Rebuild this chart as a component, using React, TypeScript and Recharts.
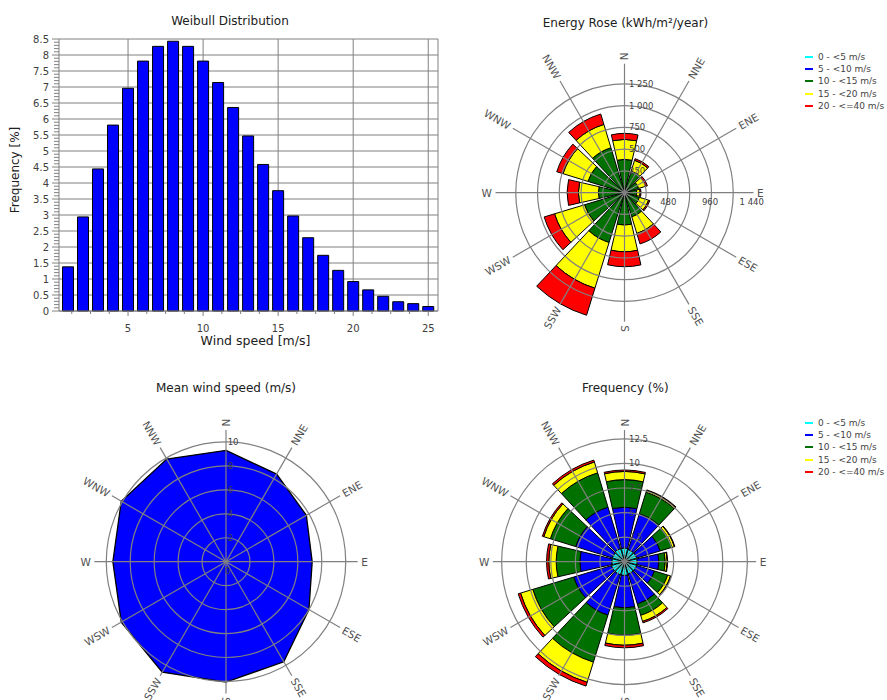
import React from 'react'
import {
  BarChart,
  Bar,
  XAxis,
  YAxis,
  CartesianGrid,
  RadialBarChart,
  RadialBar,
  PolarAngleAxis,
  PolarRadiusAxis,
  PolarGrid,
  RadarChart,
  Radar
} from 'recharts'

const FONT = '"DejaVu Sans", Verdana, sans-serif'
const GRID = '#808080'
const TXT = '#404040'

// ---- Weibull distribution ----
const windSpeeds = [1, 2, 3, 4, 5, 6, 7, 8, 9, 10, 11, 12, 13, 14, 15, 16, 17, 18, 19, 20, 21, 22, 23, 24, 25]
const weibullFreq = [
  1.38, 2.94, 4.44, 5.81, 6.96, 7.81, 8.27, 8.43, 8.27, 7.81, 7.14, 6.36, 5.47, 4.58, 3.76, 2.97, 2.29, 1.74,
  1.27, 0.92, 0.66, 0.46, 0.29, 0.23, 0.14
]
const freqMajorTicks = [0, 0.5, 1, 1.5, 2, 2.5, 3, 3.5, 4, 4.5, 5, 5.5, 6, 6.5, 7, 7.5, 8, 8.5]
const speedMajorTicks = [5, 10, 15, 20, 25]

// minor ticks: 0.1 steps on y, 1.25 steps on x
const freqAllTicks: number[] = []
for (let i = 0; i <= 85; i++) freqAllTicks.push(i / 10)
const speedAllTicks: number[] = []
for (let i = 1; i <= 20; i++) speedAllTicks.push(i * 1.25)

const weibullData = windSpeeds.map((s, i) => ({ speed: s, freq: weibullFreq[i] }))

// ---- roses ----
const sectors = ['N', 'NNE', 'ENE', 'E', 'ESE', 'SSE', 'S', 'SSW', 'WSW', 'W', 'WNW', 'NNW']
const speedBins = ['0 - <5 m/s', '5 - <10 m/s', '10 - <15 m/s', '15 - <20 m/s', '20 - <=40 m/s']
const binColors = ['#00ffff', '#0000ff', '#007000', '#ffff00', '#ff0000']

const energyBin0 = [5, 4, 3, 3, 3, 4, 5, 6, 5, 4, 5, 5]
const energyBin1 = [35, 26, 22, 22, 22, 26, 35, 44, 40, 31, 35, 40]
const energyBin2 = [343, 230, 145, 115, 155, 260, 332, 550, 435, 265, 400, 495]
const energyBin3 = [230, 130, 85, 40, 110, 200, 307, 550, 360, 230, 300, 280]
const energyBin4 = [69, 20, 20, 10, 15, 125, 172, 325, 125, 130, 75, 125]
const energyTicks = [0, 250, 500, 750, 1000, 1250]
const energyEastTicks = [480, 960, 1440]

const freqBin0 = [1.4, 1.3, 1.3, 1.3, 1.3, 1.3, 1.4, 1.4, 1.4, 1.3, 1.3, 1.4]
const freqBin1 = [4.15, 3.8, 2.5, 2.2, 1.9, 3.2, 3.3, 4.3, 4.0, 3.25, 3.9, 4.4]
const freqBin2 = [2.8, 2.3, 1.25, 0.65, 1.4, 1.2, 2.78, 5.0, 4.35, 2.4, 2.7, 3.65]
const freqBin3 = [0.83, 0.18, 0.25, 0.2, 0.3, 0.65, 1.02, 2.15, 1.3, 0.75, 0.7, 1.15]
const freqBin4 = [0.15, 0.07, 0.05, 0.05, 0.05, 0.15, 0.26, 0.4, 0.25, 0.23, 0.15, 0.2]
const freqRoseTicks = [0, 2.5, 5, 7.5, 10, 12.5]

const meanSpeed = [9.3, 8.45, 7.75, 7.2, 8.0, 9.65, 10.05, 10.65, 10.1, 9.45, 10.1, 9.9]
const meanTicks = [0, 2, 4, 6, 8, 10]

const binKeys = ['b0', 'b1', 'b2', 'b3', 'b4']
const energyData = sectors.map((dir, i) => ({
  dir,
  b0: energyBin0[i],
  b1: energyBin1[i],
  b2: energyBin2[i],
  b3: energyBin3[i],
  b4: energyBin4[i]
}))
const freqData = sectors.map((dir, i) => ({
  dir,
  b0: freqBin0[i],
  b1: freqBin1[i],
  b2: freqBin2[i],
  b3: freqBin3[i],
  b4: freqBin4[i]
}))
const meanData = sectors.map((dir, i) => ({ dir, speed: meanSpeed[i] }))

const fmtThousands = (v: number) =>
  v >= 1000 ? `${Math.floor(v / 1000)} ${String(v % 1000).padStart(3, '0')}` : String(v)

// ---- tick renderers ----
const YTick = (props: any) => {
  const { x, y, payload } = props
  const major = Math.round(payload.value * 10) % 5 === 0
  return (
    <g>
      <line x1={x - (major ? 7 : 5)} x2={x} y1={y} y2={y} stroke={GRID} />
      {major && (
        <text x={x - 10} y={y} textAnchor="end" dominantBaseline="central" fontSize={10} fill={TXT} fontFamily={FONT}>
          {payload.value}
        </text>
      )}
    </g>
  )
}

const XTick = (props: any) => {
  const { x, y, payload } = props
  const major = payload.value % 5 === 0
  return (
    <g>
      <line x1={x} x2={x} y1={y} y2={y + (major ? 5 : 3)} stroke={GRID} />
      {major && (
        <text x={x} y={y + 17} textAnchor="middle" dominantBaseline="central" fontSize={10} fill={TXT} fontFamily={FONT}>
          {payload.value}
        </text>
      )}
    </g>
  )
}

const CompassTick = (props: any) => {
  const { x, y, payload } = props
  const c = payload.coordinate
  const right = Math.cos((c * Math.PI) / 180) > -1e-6
  const rot = right ? -c : 180 - c
  return (
    <text
      x={x}
      y={y}
      transform={`rotate(${rot}, ${x}, ${y})`}
      textAnchor={right ? 'start' : 'end'}
      dominantBaseline="central"
      fontSize={10.5}
      fill="#505050"
      fontFamily={FONT}
    >
      {payload.value}
    </text>
  )
}

const radiusTick = (dx: number, showZero: boolean) => (props: any) => {
  const { x, y, payload } = props
  if (payload.value === 0 && !showZero) return <g />
  return (
    <text
      x={x + dx}
      y={payload.value === 0 ? y + 9 : y}
      textAnchor={payload.value === 0 ? 'middle' : 'start'}
      dominantBaseline="central"
      fontSize={8.5}
      fill={TXT}
      fontFamily={FONT}
    >
      {fmtThousands(payload.value)}
    </text>
  )
}

const EastTick = (props: any) => {
  const { x, y, payload } = props
  return (
    <text x={x + 2} y={y + 9} textAnchor="middle" dominantBaseline="central" fontSize={8.5} fill={TXT} fontFamily={FONT}>
      {fmtThousands(payload.value)}
    </text>
  )
}

const Title = ({ x, y, text }: { x: number; y: number; text: string }) => (
  <div
    style={{
      position: 'absolute',
      left: x,
      top: y - 7,
      transform: 'translateX(-50%)',
      whiteSpace: 'nowrap',
      fontFamily: FONT,
      fontSize: 12,
      lineHeight: '14px',
      color: '#202020'
    }}
  >
    {text}
  </div>
)

const SpeedLegend = ({ top }: { top: number }) => (
  <div style={{ position: 'absolute', left: 805, top, fontFamily: FONT, fontSize: 9, color: '#444' }}>
    {speedBins.map((label, i) => (
      <div key={label} style={{ height: 12.3, display: 'flex', alignItems: 'center', whiteSpace: 'nowrap' }}>
        <span style={{ display: 'inline-block', width: 8, height: 2, background: binColors[i], marginRight: 5 }} />
        <span>{label}</span>
      </div>
    ))}
  </div>
)

const NO_MARGIN = { top: 0, right: 0, bottom: 0, left: 0 }
const layer: React.CSSProperties = { position: 'absolute', left: 0, top: 0 }

// stacked wedges: bands start half a sector before each compass point so they sit centred on it
const RoseBars = ({ data, max, r, cy }: any) => (
  <RadialBarChart
    width={437}
    height={350}
    cx={174.5}
    cy={cy}
    innerRadius={0}
    outerRadius={r}
    startAngle={75}
    endAngle={-285}
    layout="centric"
    data={data}
    barCategoryGap="6%"
    margin={NO_MARGIN}
  >
    <PolarAngleAxis type="category" dataKey="dir" tick={false} tickLine={false} axisLine={false} />
    <PolarRadiusAxis type="number" domain={[0, max]} tick={false} tickLine={false} axisLine={false} />
    {binKeys.map((k, i) => (
      <RadialBar
        key={k}
        dataKey={k}
        stackId="s"
        fill={binColors[i]}
        stroke="#000"
        strokeWidth={1}
        isAnimationActive={false}
      />
    ))}
  </RadialBarChart>
)

// grid, compass labels and radius labels drawn over the wedges
const RoseFrame = ({ data, max, r, cy, ticks, angle, tick, grid }: any) => (
  <RadarChart
    width={437}
    height={350}
    cx={174.5}
    cy={cy}
    outerRadius={r}
    startAngle={90}
    endAngle={-270}
    data={data}
    margin={NO_MARGIN}
  >
    {grid && <PolarGrid gridType="circle" stroke={GRID} strokeWidth={1.2} />}
    <PolarAngleAxis
      dataKey="dir"
      tickLine={false}
      axisLine={false}
      tickSize={3.5}
      tick={grid ? CompassTick : false}
    />
    <PolarRadiusAxis
      type="number"
      angle={angle}
      domain={[0, max]}
      ticks={ticks}
      axisLine={false}
      tickLine={false}
      tick={tick}
    />
    <Radar dataKey="b0" fill="none" stroke="none" dot={false} isAnimationActive={false} />
  </RadarChart>
)

export default function App() {
  return (
    <div
      style={{
        position: 'absolute',
        left: 0,
        top: 0,
        width: 887,
        height: 700,
        overflow: 'hidden',
        background: '#fff',
        fontFamily: FONT
      }}
    >
      {/* Weibull */}
      <div style={{ position: 'absolute', left: 0, top: 0 }}>
        <BarChart width={450} height={355} data={weibullData} margin={{ top: 39, right: 12, bottom: 5, left: 0 }}>
          <CartesianGrid
            stroke={GRID}
            horizontalValues={freqMajorTicks}
            verticalValues={[...speedMajorTicks, 25.65]}
          />
          <XAxis
            type="number"
            dataKey="speed"
            domain={[0.4, 25.65]}
            ticks={speedAllTicks}
            interval={0}
            tickSize={0}
            tickMargin={0}
            tickLine={false}
            axisLine={{ stroke: GRID }}
            tick={XTick}
            height={39}
            label={{ value: 'Wind speed [m/s]', position: 'insideBottom', dx: 7, fontSize: 12.5, fill: '#202020', fontFamily: FONT }}
          />
          <YAxis
            type="number"
            domain={[0, 8.5]}
            ticks={freqAllTicks}
            interval={0}
            tickSize={0}
            tickMargin={0}
            tickLine={false}
            axisLine={{ stroke: GRID }}
            tick={YTick}
            width={59}
            label={{
              value: 'Frequency [%]',
              angle: -90,
              position: 'insideLeft',
              dx: 10,
              dy: -5,
              style: { textAnchor: 'middle' },
              fontSize: 12,
              fill: '#202020',
              fontFamily: FONT
            }}
          />
          <Bar dataKey="freq" fill="#0000ff" stroke="#000" strokeWidth={1} barSize={11} isAnimationActive={false} />
        </BarChart>
      </div>
      <Title x={230} y={20.7} text="Weibull Distribution" />

      {/* Energy rose */}
      <div style={{ position: 'absolute', left: 450, top: 0, width: 437, height: 350 }}>
        <div style={layer}>
          <RoseBars data={energyData} max={1483} r={129} cy={192.7} />
        </div>
        <div style={layer}>
          <RoseFrame data={energyData} max={1483} r={129} cy={192.7} ticks={energyTicks} angle={90} tick={radiusTick(4.5, false)} grid />
        </div>
        <div style={layer}>
          <RoseFrame data={energyData} max={1483} r={129} cy={192.7} ticks={energyEastTicks} angle={0} tick={EastTick} grid={false} />
        </div>
      </div>
      <Title x={625.5} y={22.7} text="Energy Rose (kWh/m²/year)" />
      <SpeedLegend top={50.5} />

      {/* Mean wind speed */}
      <div style={{ position: 'absolute', left: 0, top: 350 }}>
        <RadarChart
          width={450}
          height={350}
          cx={226}
          cy={211.7}
          outerRadius={131.7}
          startAngle={90}
          endAngle={-270}
          data={meanData}
          margin={NO_MARGIN}
        >
          <PolarAngleAxis dataKey="dir" tickLine={false} axisLine={false} tickSize={3.5} tick={CompassTick} />
          <PolarRadiusAxis
            type="number"
            angle={90}
            domain={[0, 10.7]}
            ticks={meanTicks}
            axisLine={false}
            tickLine={false}
            tick={radiusTick(1.7, true)}
          />
          <Radar
            dataKey="speed"
            fill="#0000ff"
            fillOpacity={1}
            stroke="#000"
            strokeWidth={1.3}
            dot={false}
            isAnimationActive={false}
          />
          <PolarGrid gridType="circle" stroke={GRID} strokeWidth={1.2} zIndex={350} />
        </RadarChart>
      </div>
      <Title x={226} y={388.3} text="Mean wind speed (m/s)" />

      {/* Frequency rose */}
      <div style={{ position: 'absolute', left: 450, top: 350, width: 437, height: 350 }}>
        <div style={layer}>
          <RoseBars data={freqData} max={13.4} r={131.7} cy={211.7} />
        </div>
        <div style={layer}>
          <RoseFrame data={freqData} max={13.4} r={131.7} cy={211.7} ticks={freqRoseTicks} angle={90} tick={radiusTick(4.5, false)} grid />
        </div>
      </div>
      <Title x={625.3} y={388.3} text="Frequency (%)" />
      <SpeedLegend top={416.5} />
    </div>
  )
}
